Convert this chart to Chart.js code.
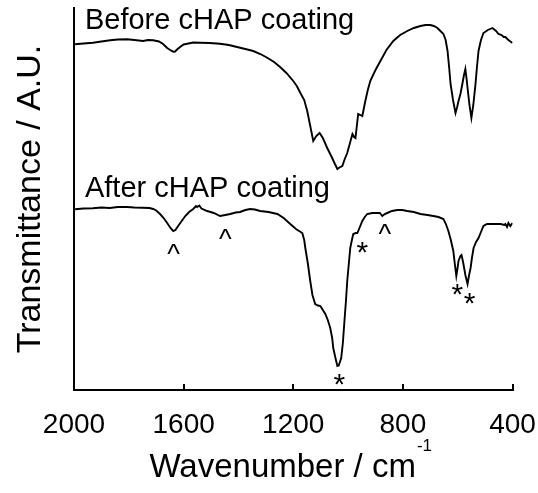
<!DOCTYPE html>
<html><head><meta charset="utf-8">
<script src="https://cdn.jsdelivr.net/npm/chart.js@4/dist/chart.umd.min.js"></script>
<style>html,body{margin:0;padding:0;background:#fff;}canvas{display:block;}</style>
</head><body>
<canvas id="c" width="538" height="493"></canvas>
<script>
const FONT = '"Liberation Sans", Arial, sans-serif';

// x tick labels (wavenumber, cm-1)
const xTicks = [2000, 1600, 1200, 800, 400];

// Before cHAP coating spectrum (wavenumber, transmittance a.u.)
const wnBefore = [1996,1965,1931,1900,1868,1840,1806,1780,1748,1730,1711,1690,1675,1660,1649,1638,1631,1622,1613,1600,1587,1565,1540,1505,1467,1435,1405,1375,1346,1320,1295,1270,1248,1225,1200,1187,1174,1160,1149,1138,1127,1116,1104,1092,1076,1067,1058,1048,1039,1034,1028,1021,1012,1003,993,984,978,973,968,963,955,948,937,928,919,900,882,860,835,810,784,760,736,718,700,687,674,663,652,644,637,631,626,617,608,602,597,590,583,577,572,567,564,557,550,543,535,530,524,515,506,490,473,460,451,440,432,426,415,400];
const tBefore = [345.7,346.5,347.3,348.5,349.7,350.5,350.7,350,349,350,349.7,348.5,346,342,340,338.3,338.5,341,343,345.5,346.3,347.5,347.3,347,346.3,345,343,341,339,336,332.3,328,323,317,309,304,297,290,279,264,249,254,257,252,242,237,232,226,221,222,223,224,231,237,247,256,253,252,264,276,275,274,289,300,309,320,329,340,349,355,359,362,364,365,365,364,362,359,356,350,339,322,306,290,277,283,289,296,306,315,321,310,302,285,272,285,306,322,339,350,357,360,362,359,356,355,353,353,350,347];

// After cHAP coating spectrum
const wnAfter = [1996,1965,1931,1900,1870,1840,1806,1780,1750,1725,1711,1700,1686,1673,1660,1648,1638,1630,1620,1607,1594,1580,1565,1555,1551,1543,1535,1514,1490,1467,1448,1430,1410,1394,1375,1357,1340,1321,1290,1258,1235,1211,1190,1167,1160,1156,1147,1138,1130,1120,1110,1101,1092,1083,1074,1065,1058,1054,1046,1039,1034,1025,1019,1014,1008,1003,997,992,986,981,972,966,957,948,939,930,912,893,884,875,866,857,840,820,802,784,760,736,710,689,670,652,643,634,625,616,610,605,601,597,590,586,582,579,572,564,559,553,548,542,533,524,515,506,493,480,460,443,430,426,420,415,408,400];
const tAfter = [180.7,181.5,181.7,182.5,182,183,183,182.5,182.3,182,181,179.5,176,172,167,162,159,160,164,169,174,178,181,184,183,184.5,181.5,179,177,174,175,176,177.5,178,180,181,180.5,179,178,176,172,166,161,157,150,142,127,109,95,86,84.5,84,80,76,70,62,52,42,32,24,24.5,32,47,66,88,109,127,142,150,156,157,157,163,169,173,176,177,177,177,174,176,177,179,180,180,179,178,176,175,174,173,171,166,159,150,139,125,114,121,129,134,135,130,126,115,106,114,122,132,142,148,152,158,164,166,166,166,166,165,166,163,167,164,167];

// Series labels
const seriesNames = ['Before cHAP coating', 'After cHAP coating'];
const seriesLabelWn = [1960, 1960];
const seriesLabelT = [360.7, 193];

// Peak markers
const markWn = [1637, 1448, 866, 948, 1032, 601, 557];
const markT = [141.5, 156.5, 161, 143, 11, 100.5, 91.5];
const markSym = ['^', '^', '^', '*', '*', '*', '*'];

const xTitleMain = 'Wavenumber / cm';
const xTitleSup = '-1';
const yTitle = 'Transmittance / A.U.';

const toXY = (xs, ys) => xs.map((x, i) => ({x: x, y: ys[i]}));

const annotPlugin = {
  id: 'annot',
  afterDatasetsDraw(chart) {
    const ctx = chart.ctx, xs = chart.scales.x, ys = chart.scales.y;
    ctx.save();
    // inward tick marks on the x axis
    ctx.strokeStyle = '#000';
    ctx.lineWidth = 2;
    ctx.beginPath();
    xTicks.forEach(v => {
      const px = Math.round(xs.getPixelForValue(v));
      ctx.moveTo(px, xs.top + 1);
      ctx.lineTo(px, xs.top - 6);
    });
    ctx.stroke();
    ctx.fillStyle = '#000';
    // series labels
    ctx.font = '29px ' + FONT;
    ctx.textAlign = 'left';
    ctx.textBaseline = 'alphabetic';
    seriesNames.forEach((s, i) => {
      ctx.fillText(s, xs.getPixelForValue(seriesLabelWn[i]), ys.getPixelForValue(seriesLabelT[i]));
    });
    // markers centred on their points
    ctx.textAlign = 'center';
    markSym.forEach((s, i) => {
      ctx.font = (s === '*' ? '30px ' : '27px ') + FONT;
      const m = ctx.measureText(s);
      const cx = xs.getPixelForValue(markWn[i]);
      const cy = ys.getPixelForValue(markT[i]);
      const base = cy + (m.actualBoundingBoxAscent - m.actualBoundingBoxDescent) / 2;
      ctx.fillText(s, cx, base);
    });
    // x axis title with superscript
    ctx.textAlign = 'left';
    ctx.font = '33px ' + FONT;
    const w1 = ctx.measureText(xTitleMain).width;
    ctx.font = '17px ' + FONT;
    const w2 = ctx.measureText(xTitleSup).width;
    const cx = (xs.left + xs.right) / 2 - 3;
    const x0 = cx - (w1 + w2) / 2;
    const base = xs.top + 87;
    ctx.font = '33px ' + FONT;
    ctx.fillText(xTitleMain, x0, base);
    ctx.font = '17px ' + FONT;
    ctx.fillText(xTitleSup, x0 + w1 + 1, base - 26);
    ctx.restore();
  }
};

new Chart(document.getElementById('c'), {
  type: 'line',
  data: {
    datasets: [
      {label: seriesNames[0], data: toXY(wnBefore, tBefore), borderColor: '#000', borderWidth: 1.9, pointRadius: 0, fill: false, tension: 0},
      {label: seriesNames[1], data: toXY(wnAfter, tAfter), borderColor: '#000', borderWidth: 1.9, pointRadius: 0, fill: false, tension: 0}
    ]
  },
  options: {
    responsive: false,
    animation: false,
    devicePixelRatio: 1,
    layout: {padding: {top: 8, right: 0, left: 0, bottom: 0}},
    plugins: {legend: {display: false}, tooltip: {enabled: false}},
    scales: {
      x: {
        type: 'linear', reverse: true, min: 400, max: 2000,
        afterBuildTicks(s) { s.ticks = xTicks.map(v => ({value: v})); },
        grid: {display: false, drawTicks: false, tickLength: 0},
        border: {display: true, color: '#000', width: 2},
        ticks: {font: {family: FONT, size: 28}, color: '#000', padding: 18, maxRotation: 0, autoSkip: false, callback: v => String(v)},
        title: {display: false},
        afterFit(s) { s.height = 103; s.paddingLeft = 0; s.paddingRight = 25.5; }
      },
      y: {
        min: 0, max: 382,
        grid: {display: false},
        border: {display: true, color: '#000', width: 2},
        ticks: {display: false},
        title: {display: true, text: yTitle, color: '#000', font: {family: FONT, size: 34}, padding: {top: 10, bottom: 0}},
        afterFit(s) { s.width = 74; }
      }
    }
  },
  plugins: [annotPlugin]
});
</script>
</body></html>
